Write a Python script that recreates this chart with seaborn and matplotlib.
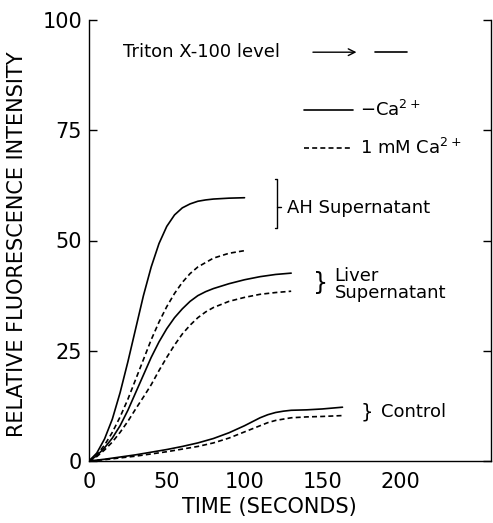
import numpy as np
import pandas as pd
import matplotlib
matplotlib.use("Agg")
import matplotlib.pyplot as plt
import seaborn as sns
from matplotlib.lines import Line2D

# ---------------- data ----------------
ah_minus_t = [0, 5, 10, 15, 20, 25, 30, 35, 40, 45, 50, 55, 60, 65, 70, 75, 80, 90, 100]
ah_minus_v = [0, 1.8, 5, 9.5, 15.5, 22.5, 30, 37.5, 44, 49.3, 53.2, 55.8, 57.4, 58.3,
              58.9, 59.2, 59.4, 59.6, 59.7]

ah_ca_t = [0, 5, 10, 15, 20, 25, 30, 35, 40, 45, 50, 55, 60, 65, 70, 80, 90, 100]
ah_ca_v = [0, 1.4, 3.6, 6.5, 10, 14, 18.5, 23, 27.5, 31.5, 35, 38, 40.5, 42.5, 44,
           46, 47.1, 47.7]

liver_minus_t = [0, 5, 10, 15, 20, 25, 30, 35, 40, 45, 50, 55, 60, 65, 70, 75, 80,
                 90, 100, 110, 120, 130]
liver_minus_v = [0, 1.2, 3, 5.2, 8, 11.5, 15.5, 19.5, 23.5, 27, 30, 32.5, 34.5, 36.2,
                 37.5, 38.4, 39.1, 40.2, 41.1, 41.8, 42.3, 42.6]

liver_ca_t = [0, 5, 10, 15, 20, 25, 30, 35, 40, 45, 50, 55, 60, 65, 70, 75, 80,
              90, 100, 110, 120, 130]
liver_ca_v = [0, 1, 2.5, 4.3, 6.5, 9, 11.8, 14.5, 17.3, 20.5, 23.5, 26.3, 28.8, 30.8,
              32.5, 33.8, 34.8, 36.2, 37.1, 37.8, 38.2, 38.5]

control_minus_t = [0, 10, 20, 30, 40, 50, 60, 70, 80, 90, 100, 105, 110, 115, 120,
                   125, 130, 140, 150, 163]
control_minus_v = [0, 0.4, 0.9, 1.4, 2.0, 2.6, 3.3, 4.1, 5.1, 6.4, 8.0, 8.9, 9.8, 10.5,
                   11.0, 11.3, 11.5, 11.6, 11.8, 12.2]

control_ca_t = [0, 10, 20, 30, 40, 50, 60, 70, 80, 90, 100, 105, 110, 115, 120,
                125, 130, 140, 150, 163]
control_ca_v = [0, 0.3, 0.7, 1.1, 1.6, 2.1, 2.7, 3.3, 4.1, 5.2, 6.6, 7.3, 8.0, 8.7,
                9.2, 9.5, 9.8, 10.0, 10.1, 10.3]

triton_level = 92.7

x_ticks = [0, 50, 100, 150, 200]
y_ticks = [0, 25, 50, 75, 100]

series = [
    ("AH", "-Ca", ah_minus_t, ah_minus_v),
    ("AH", "1mM", ah_ca_t, ah_ca_v),
    ("Liver", "-Ca", liver_minus_t, liver_minus_v),
    ("Liver", "1mM", liver_ca_t, liver_ca_v),
    ("Control", "-Ca", control_minus_t, control_minus_v),
    ("Control", "1mM", control_ca_t, control_ca_v),
]
rows = []
for sample, cond, ts, vs in series:
    for t, v in zip(ts, vs):
        rows.append({"time": t, "value": v, "sample": sample + cond, "condition": cond})
df = pd.DataFrame(rows)

# ---------------- figure ----------------
sns.set_theme(style="white")
plt.rcParams["font.family"] = ["DejaVu Sans"]
plt.rcParams["mathtext.fontset"] = "dejavusans"
plt.rcParams["text.color"] = "black"
plt.rcParams["axes.labelcolor"] = "black"

fig = plt.figure(figsize=(4.93, 5.23), dpi=100)
ax = fig.add_axes([89 / 493, 1 - 461 / 523, 402 / 493, 441 / 523])

LW = 1.2
dash = (3.0, 1.9)
sns.lineplot(data=df, x="time", y="value", units="sample", style="condition",
             estimator=None, sort=False, color="black", linewidth=LW,
             dashes={"-Ca": "", "1mM": dash}, legend=False, ax=ax)
for ln in ax.lines:
    ln.set_solid_joinstyle("round")
    ln.set_dash_joinstyle("round")

ax.set_xlim(0, 258.5)
ax.set_ylim(0, 100)
ax.set_xticks(x_ticks)
ax.set_yticks(y_ticks)
ax.set_xticklabels([str(t) for t in x_ticks])
ax.set_yticklabels([str(t) for t in y_ticks])

for side in ["left", "bottom", "right"]:
    ax.spines[side].set_visible(True)
    ax.spines[side].set_color("black")
    ax.spines[side].set_linewidth(1.0)
ax.spines["top"].set_visible(False)

ax.tick_params(axis="y", which="both", direction="in", length=6, width=1.0,
               left=True, right=True, labelsize=15, pad=5, colors="black")
ax.tick_params(axis="x", which="both", direction="in", length=0, width=1.0,
               bottom=True, labelsize=15, pad=8, colors="black")

ax.set_xlabel("TIME (SECONDS)", fontsize=15, color="black")
ax.set_ylabel("RELATIVE FLUORESCENCE INTENSITY", fontsize=15, color="black")
ax.xaxis.set_label_coords(0.448, -0.082)
ax.yaxis.set_label_coords(-0.155, 0.492)

# Triton X-100 level annotation
ax.text(22, triton_level, "Triton X-100 level", fontsize=13, va="center", ha="left",
        color="black")
ax.annotate("", xy=(172, triton_level), xytext=(144, triton_level),
            arrowprops=dict(arrowstyle="->", lw=1.0, color="black",
                            shrinkA=0, shrinkB=0))
ax.plot([184, 204.5], [triton_level, triton_level], color="black", lw=LW)

# legend
handles = [Line2D([], [], color="black", lw=LW),
           Line2D([], [], color="black", lw=LW, ls=(0, dash))]
leg = ax.legend(handles, ["$-$Ca$^{2+}$", "1 mM Ca$^{2+}$"], frameon=False,
                loc="upper left", bbox_to_anchor=(0.535, 0.819), fontsize=13,
                handlelength=2.7, handletextpad=0.4, labelspacing=1.0,
                borderpad=0, borderaxespad=0)
for txt in leg.get_texts():
    txt.set_color("black")

# AH bracket
bx = 121
ax.plot([bx - 1.5, bx, bx, bx - 1.5], [64, 64, 52.8, 52.8], color="black", lw=1.0)
ax.plot([bx, bx + 2.5], [57.5, 57.5], color="black", lw=1.0)
ax.text(127, 57.3, "AH Supernatant", fontsize=13, va="center", ha="left", color="black")

# Liver bracket
ax.text(148.6, 40.3, "}", fontsize=17, va="center", ha="center", color="black")
ax.text(158, 40.0, "Liver\nSupernatant", fontsize=13, va="center", ha="left",
        linespacing=0.95, color="black")

# Control bracket
ax.text(178.8, 11.0, "}", fontsize=14, va="center", ha="center", color="black")
ax.text(188, 11.0, "Control", fontsize=13, va="center", ha="left", color="black")

fig.savefig("out.png", dpi=100)
